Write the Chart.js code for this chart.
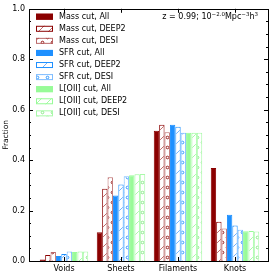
<!DOCTYPE html>
<html><head><meta charset="utf-8">
<script src="https://cdn.jsdelivr.net/npm/chart.js@4/dist/chart.umd.min.js"></script>
<style>html,body{margin:0;padding:0;background:#fff;overflow:hidden}</style>
</head><body>
<canvas id="c" width="274" height="275" style="width:274px;height:275px;display:block"></canvas>
<script>
const categories = ['Voids', 'Sheets', 'Filaments', 'Knots'];
const seriesNames = ['Mass cut, All', 'Mass cut, DEEP2', 'Mass cut, DESI',
  'SFR cut, All', 'SFR cut, DEEP2', 'SFR cut, DESI',
  'L[OII] cut, All', 'L[OII] cut, DEEP2', 'L[OII] cut, DESI'];
const massAll   = [0.006, 0.114, 0.516, 0.369];
const massDEEP2 = [0.024, 0.286, 0.540, 0.156];
const massDESI  = [0.036, 0.332, 0.511, 0.129];
const sfrAll    = [0.020, 0.260, 0.540, 0.183];
const sfrDEEP2  = [0.028, 0.303, 0.532, 0.141];
const sfrDESI   = [0.038, 0.336, 0.509, 0.124];
const loiiAll   = [0.036, 0.340, 0.509, 0.118];
const loiiDEEP2 = [0.038, 0.344, 0.509, 0.119];
const loiiDESI  = [0.038, 0.345, 0.509, 0.117];
const yTickLabels = ['0.0', '0.2', '0.4', '0.6', '0.8', '1.0'];
const annotation = ['z = 0.99; 10', '\u22122.0', 'Mpc', '\u22123', 'h', '3'];

const FONT = '"DejaVu Sans", sans-serif';

function hatch(color, bg) {
  const c = document.createElement('canvas'); c.width = 10; c.height = 10;
  const g = c.getContext('2d');
  g.fillStyle = bg; g.fillRect(0, 0, 10, 10);
  g.strokeStyle = color; g.lineWidth = 0.9;
  g.beginPath();
  g.moveTo(0, 10); g.lineTo(10, 0);
  g.moveTo(-5, 5); g.lineTo(5, -5);
  g.moveTo(5, 15); g.lineTo(15, 5);
  g.stroke();
  return g.createPattern(c, 'repeat');
}
function dots(color, bg) {
  const c = document.createElement('canvas'); c.width = 10; c.height = 10;
  const g = c.getContext('2d');
  g.fillStyle = bg; g.fillRect(0, 0, 10, 10);
  g.strokeStyle = color; g.lineWidth = 0.9;
  [[2.5, 2.5], [7.5, 7.5]].forEach(([x, y]) => { g.beginPath(); g.arc(x, y, 1.3, 0, Math.PI * 2); g.stroke(); });
  return g.createPattern(c, 'repeat');
}

const red = '#8b0000', blue = '#1e90ff', green = '#98fb98';
const styles = [
  { bg: red, border: red },
  { bg: hatch('rgba(170,60,60,0.85)', '#fff'), border: red },
  { bg: dots(red, '#fff'), border: 'rgba(180,90,90,0.9)' },
  { bg: blue, border: blue },
  { bg: hatch('rgba(80,160,255,0.9)', '#fff'), border: blue },
  { bg: dots(blue, '#fff'), border: 'rgba(120,185,255,0.95)' },
  { bg: green, border: green },
  { bg: hatch('rgba(152,251,152,0.95)', '#fff'), border: green },
  { bg: dots('rgba(130,230,130,1)', '#fff'), border: 'rgba(170,250,170,1)' }
];
const seriesValues = [massAll, massDEEP2, massDESI, sfrAll, sfrDEEP2, sfrDESI, loiiAll, loiiDEEP2, loiiDESI];

const datasets = seriesValues.map((vals, k) => ({
  label: seriesNames[k],
  data: vals.map((v, i) => ({ x: i, y: v })),
  backgroundColor: styles[k].bg,
  borderColor: styles[k].border,
  borderWidth: 1,
  categoryPercentage: 0.85,
  barPercentage: 1.0
}));

const decor = {
  id: 'decor',
  afterDraw(chart) {
    const ctx = chart.ctx, a = chart.chartArea;
    const ys = chart.scales.y, xs = chart.scales.x;
    ctx.save();
    ctx.strokeStyle = '#000'; ctx.lineWidth = 1;
    ctx.beginPath();
    for (let i = 0; i <= 20; i++) {
      const v = i * 0.05;
      const y = Math.round(ys.getPixelForValue(v)) + 0.5;
      const len = (i % 4 === 0) ? 4 : 2;
      ctx.moveTo(a.left, y); ctx.lineTo(a.left + len, y);
      ctx.moveTo(a.right, y); ctx.lineTo(a.right - len, y);
    }
    for (let i = 0; i < categories.length; i++) {
      const x = Math.round(xs.getPixelForValue(i)) + 0.5;
      ctx.moveTo(x, a.bottom); ctx.lineTo(x, a.bottom - 4);
      ctx.moveTo(x, a.top); ctx.lineTo(x, a.top + 4);
    }
    ctx.stroke();
    ctx.strokeRect(Math.round(a.left) + 0.5, Math.round(a.top) + 0.5, Math.round(a.right - a.left), Math.round(a.bottom - a.top));

    ctx.font = '8px ' + FONT;
    ctx.textBaseline = 'middle'; ctx.textAlign = 'left';
    chart.data.datasets.forEach((ds, k) => {
      const cy = 16.7 + k * 12.08;
      ctx.fillStyle = ds.backgroundColor;
      ctx.fillRect(36, cy - 3, 17, 6);
      ctx.strokeStyle = ds.borderColor; ctx.lineWidth = 1;
      ctx.strokeRect(36.5, cy - 2.5, 16, 5);
      ctx.fillStyle = '#000';
      ctx.fillText(ds.label, 59, cy);
    });

    const parts = annotation.map((t, i) => ({ t, sup: i % 2 === 1 }));
    let total = 0;
    parts.forEach(p => { ctx.font = (p.sup ? '5.5px ' : '8px ') + FONT; p.w = ctx.measureText(p.t).width; total += p.w; });
    let x = 258 - total;
    ctx.textBaseline = 'alphabetic';
    ctx.fillStyle = '#000';
    parts.forEach(p => {
      ctx.font = (p.sup ? '5.5px ' : '8px ') + FONT;
      ctx.fillText(p.t, x, p.sup ? 15.5 : 19);
      x += p.w;
    });
    ctx.restore();
  }
};

new Chart(document.getElementById('c'), {
  type: 'bar',
  data: { datasets },
  options: {
    responsive: false,
    devicePixelRatio: 1,
    animation: false,
    layout: { padding: { top: 6, right: 6, left: 0, bottom: 0 } },
    plugins: { legend: { display: false }, tooltip: { enabled: false } },
    scales: {
      x: {
        type: 'linear',
        offset: false,
        min: -0.614, max: 3.579,
        grid: { display: false, drawTicks: false, offset: false },
        border: { display: false },
        afterBuildTicks: s => { s.ticks = categories.map((c, i) => ({ value: i })); },
        afterFit: s => { s.height = 14; },
        ticks: {
          autoSkip: false, maxRotation: 0, padding: 3,
          font: { family: FONT, size: 8 }, color: '#000',
          callback: v => categories[v]
        }
      },
      y: {
        min: 0, max: 1,
        grid: { display: false, drawTicks: false },
        border: { display: false },
        afterBuildTicks: s => { s.ticks = yTickLabels.map(t => ({ value: parseFloat(t) })); },
        afterFit: s => { s.width = 29; },
        ticks: {
          padding: 4,
          font: { family: FONT, size: 8 }, color: '#000',
          callback: (v, i) => yTickLabels[i]
        },
        title: {
          display: true, text: 'Fraction',
          font: { family: FONT, size: 7.5 }, color: '#000',
          padding: { top: 2, bottom: 0 }
        }
      }
    }
  },
  plugins: [decor]
});
</script>
</body></html>
